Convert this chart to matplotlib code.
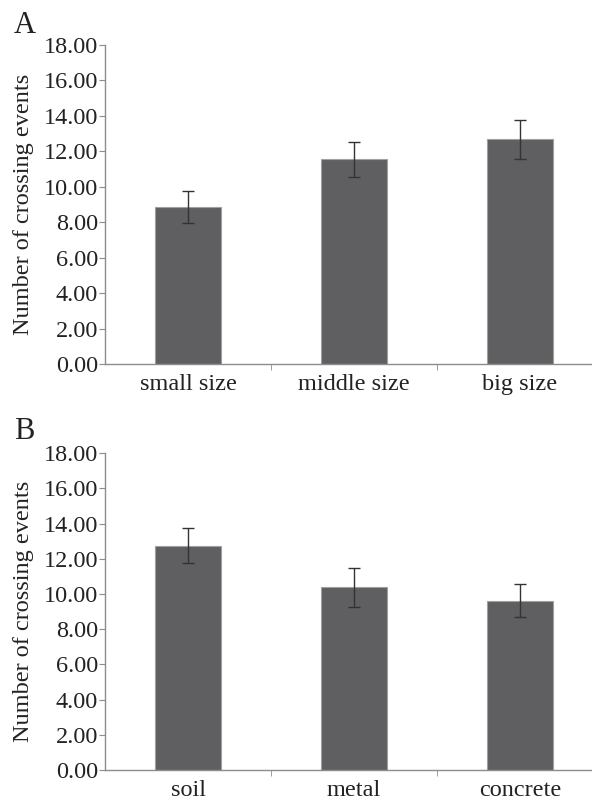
import matplotlib.pyplot as plt
import numpy as np

plt.rcParams['font.family'] = ['Liberation Serif', 'DejaVu Serif']

# panel A data
size_labels = ['small size', 'middle size', 'big size']
size_means = [8.85, 11.55, 12.68]
size_err = [0.90, 1.00, 1.10]

# panel B data
material_labels = ['soil', 'metal', 'concrete']
material_means = [12.75, 10.38, 9.63]
material_err = [0.98, 1.10, 0.95]

yticks = np.arange(0, 18.01, 2)

bar_color = '#5f5f61'
edge_color = '#a0a0a0'
axis_color = '#8c8c8c'
text_color = '#222222'

fig = plt.figure(figsize=(5.92, 8.01), dpi=100)


def draw_panel(rect, labels, means, errs, letter, letter_y):
    ax = fig.add_axes(rect)
    x = np.arange(len(labels))
    ax.bar(x, means, width=0.4, color=bar_color, edgecolor=edge_color, linewidth=0.8, zorder=2)
    ax.errorbar(x, means, yerr=errs, fmt='none', ecolor='#333333', elinewidth=1.0,
                capsize=4, capthick=1.0, zorder=3)
    ax.set_xlim(-0.5, len(labels) - 0.5)
    ax.set_ylim(0, 18)
    ax.set_yticks(yticks)
    ax.set_yticklabels(['%.2f' % v for v in yticks])
    ax.set_xticks(x)
    ax.set_xticklabels(labels)
    ax.set_xticks(np.arange(0.5, len(labels) - 0.5, 1), minor=True)
    ax.tick_params(axis='x', which='major', length=0, pad=7, labelsize=17.5, labelcolor=text_color)
    ax.tick_params(axis='x', which='minor', length=4, color=axis_color, direction='out')
    ax.tick_params(axis='y', length=4, pad=1, color=axis_color, labelsize=17.5, labelcolor=text_color)
    for s in ['top', 'right']:
        ax.spines[s].set_visible(False)
    for s in ['left', 'bottom']:
        ax.spines[s].set_color(axis_color)
        ax.spines[s].set_linewidth(1.0)
    ax.set_ylabel('Number of crossing events', fontsize=17.5, color=text_color)
    ax.yaxis.set_label_coords(-0.143, 0.5)
    fig.text(0.024, letter_y, letter, fontsize=22, color=text_color, va='center', ha='left')
    return ax


draw_panel([0.1774, 0.5456, 0.8412, 0.3983], size_labels, size_means, size_err, 'A', 0.968)
draw_panel([0.1774, 0.0387, 0.8412, 0.3954], material_labels, material_means, material_err, 'B', 0.461)

fig.savefig('out.png', dpi=100)
